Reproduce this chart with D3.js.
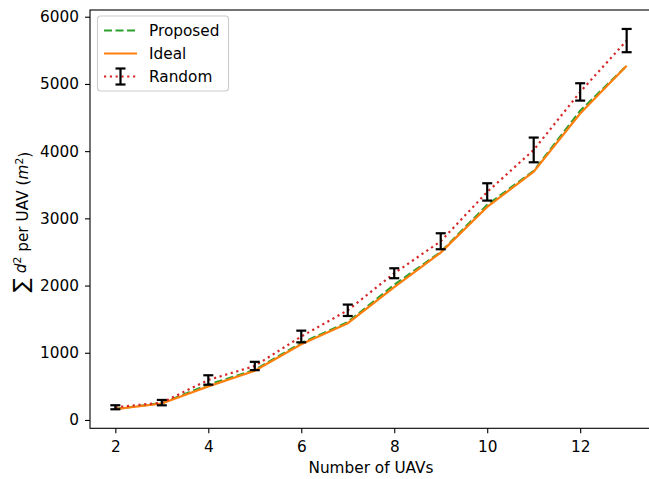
<!DOCTYPE html>
<html><head><meta charset="utf-8">
<script src="https://cdn.jsdelivr.net/npm/d3@7"></script>
<style>body{margin:0;background:#fff}svg{display:block}text{font-family:"DejaVu Sans",sans-serif}</style>
</head><body><div id="chart"></div>
<script>
const uavs = [2,3,4,5,6,7,8,9,10,11,12,13];
const proposed = [165,250,525,745,1145,1455,2010,2500,3200,3705,4600,5270];
const ideal = [160,245,500,733,1126,1440,1975,2490,3170,3695,4560,5270];
const randomMean = [189,258,595,803,1242,1632,2183,2659,3393,4018,4881,5645];
const randomErr = [30,40,70,62,87,85,74,119,129,184,129,173];
const xTicks = [2,4,6,8,10,12];
const yTicks = [0,1000,2000,3000,4000,5000,6000];
const seriesNames = ["Proposed","Ideal","Random"];

const W=649,H=479;
const L=90,R=652,T=10,B=428.3;
const svg=d3.select("#chart").append("svg").attr("width",W).attr("height",H);
const x=d3.scaleLinear().domain([1.455,13.545]).range([L,R]);
const y=d3.scaleLinear().domain([-124,6100]).range([B,T]);
const fs=15.3;

const g=svg.append("g");
const xa=svg.append("g").attr("transform",`translate(0,${B})`)
  .call(d3.axisBottom(x).tickValues(xTicks).tickSize(5).tickPadding(8).tickFormat(d3.format("d")));
const ya=svg.append("g").attr("transform",`translate(${L},0)`)
  .call(d3.axisLeft(y).tickValues(yTicks).tickSize(5).tickPadding(6).tickFormat(d3.format("d")));
[xa,ya].forEach(a=>{a.select(".domain").remove();a.selectAll("line").attr("stroke","#000").attr("stroke-width",1.1);
  a.selectAll("text").attr("font-size",fs).attr("fill","#000").style("font-family","DejaVu Sans");});

const line=d3.line().x((d,i)=>x(uavs[i])).y(d=>y(d));
g.append("path").datum(proposed).attr("d",line).attr("fill","none").attr("stroke","#2ca02c").attr("stroke-width",2.2).attr("stroke-dasharray","8,3.5");
g.append("path").datum(ideal).attr("d",line).attr("fill","none").attr("stroke","#ff7f0e").attr("stroke-width",2.2);
g.append("path").datum(randomMean).attr("d",line).attr("fill","none").attr("stroke","#d62728").attr("stroke-width",2.2).attr("stroke-dasharray","2.2,3.6");
const eb=g.append("g");
randomMean.forEach((m,i)=>{
  const cx=x(uavs[i]),y1=y(m-randomErr[i]),y2=y(m+randomErr[i]);
  eb.append("line").attr("x1",cx).attr("x2",cx).attr("y1",y1).attr("y2",y2).attr("stroke","#000").attr("stroke-width",2.2);
  [y1,y2].forEach(yy=>eb.append("line").attr("x1",cx-5).attr("x2",cx+5).attr("y1",yy).attr("y2",yy).attr("stroke","#000").attr("stroke-width",2.2));
});

svg.append("rect").attr("x",L).attr("y",T).attr("width",R-L).attr("height",B-T).attr("fill","none").attr("stroke","#000").attr("stroke-width",1.1);

const lg=svg.append("g");
lg.append("rect").attr("x",97.5).attr("y",16).attr("width",131).attr("height",75).attr("rx",3)
  .attr("fill","#fff").attr("fill-opacity",0.8).attr("stroke","#ccc").attr("stroke-width",1.1);
const ly=[30.5,53.5,76.5];
lg.append("line").attr("x1",104).attr("x2",137).attr("y1",ly[0]).attr("y2",ly[0]).attr("stroke","#2ca02c").attr("stroke-width",2.2).attr("stroke-dasharray","8,3.5");
lg.append("line").attr("x1",104).attr("x2",137).attr("y1",ly[1]).attr("y2",ly[1]).attr("stroke","#ff7f0e").attr("stroke-width",2.2);
lg.append("line").attr("x1",104).attr("x2",137).attr("y1",ly[2]).attr("y2",ly[2]).attr("stroke","#d62728").attr("stroke-width",2.2).attr("stroke-dasharray","2.2,3.6");
lg.append("line").attr("x1",120.5).attr("x2",120.5).attr("y1",ly[2]-8).attr("y2",ly[2]+8).attr("stroke","#000").attr("stroke-width",2.2);
[ly[2]-8,ly[2]+8].forEach(yy=>lg.append("line").attr("x1",115.5).attr("x2",125.5).attr("y1",yy).attr("y2",yy).attr("stroke","#000").attr("stroke-width",2.2));
seriesNames.forEach((n,i)=>lg.append("text").attr("x",149).attr("y",ly[i]).attr("dy","0.35em").attr("font-size",fs).attr("fill","#000").text(n));

svg.append("text").attr("x",(L+R)/2).attr("y",473).attr("text-anchor","middle").attr("font-size",fs).attr("fill","#000").text("Number of UAVs");
const yl=svg.append("text").attr("transform",`translate(25,222) rotate(-90)`).attr("text-anchor","middle").attr("font-size",fs).attr("fill","#000");
yl.append("tspan").attr("font-size",21).attr("dy","0.12em").text("∑");
yl.append("tspan").attr("dy","-0.12em").text(" ");
yl.append("tspan").attr("font-style","italic").text("d");
yl.append("tspan").attr("font-size",10.7).attr("dy","-0.45em").text("2");
yl.append("tspan").attr("dy","0.45em").text(" per UAV (");
yl.append("tspan").attr("font-style","italic").text("m");
yl.append("tspan").attr("font-size",10.7).attr("dy","-0.45em").text("2");
yl.append("tspan").attr("dy","0.45em").text(")");
</script></body></html>
